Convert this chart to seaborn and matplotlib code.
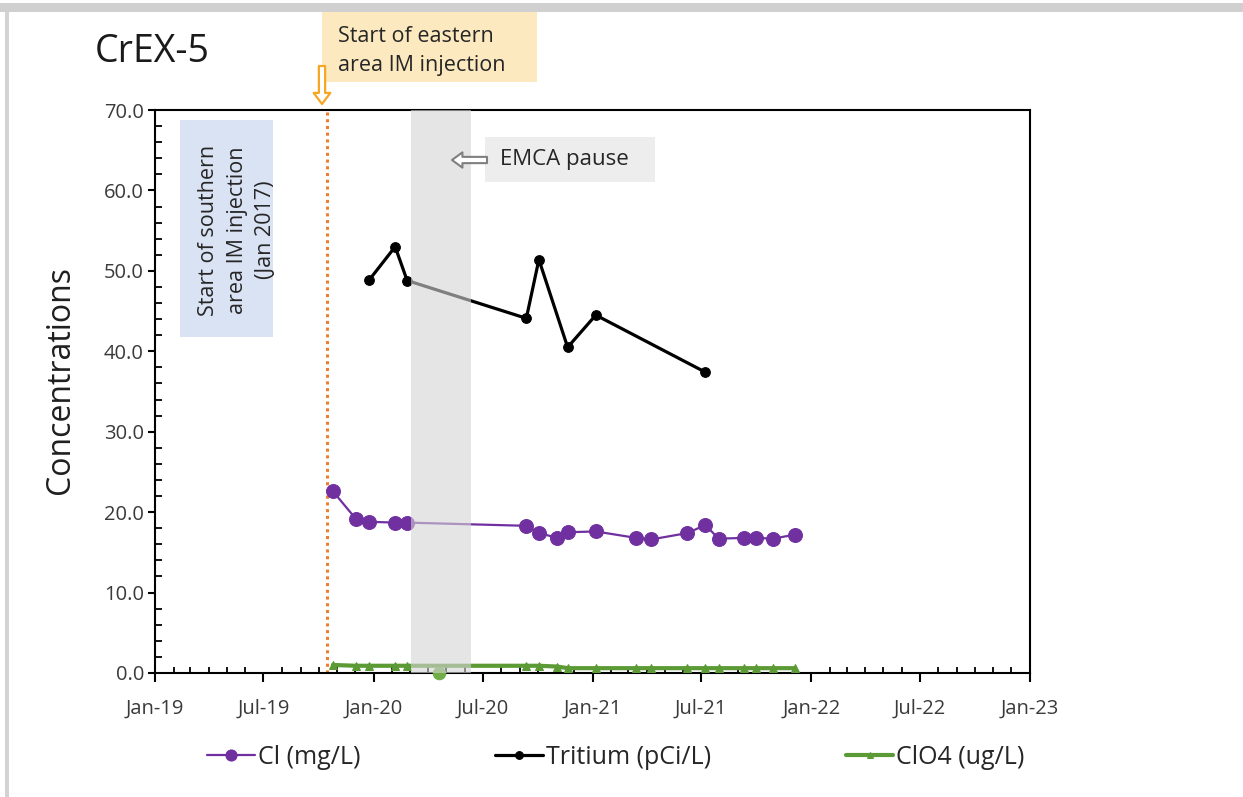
import numpy as np
import pandas as pd
import matplotlib
matplotlib.use("Agg")
import matplotlib.pyplot as plt
import matplotlib.ticker as mticker
from matplotlib.patches import Rectangle, FancyArrowPatch
import seaborn as sns

# ---------------- data ----------------
cl_dates = ["2019-10-25", "2019-12-02", "2019-12-25", "2020-02-06", "2020-02-26",
            "2020-09-12", "2020-10-03", "2020-11-03", "2020-11-20", "2021-01-06",
            "2021-03-14", "2021-04-08", "2021-06-08", "2021-07-08", "2021-07-30",
            "2021-09-11", "2021-10-01", "2021-10-29", "2021-12-04"]
cl_values = [22.6, 19.2, 18.8, 18.7, 18.7, 18.3, 17.4, 16.8, 17.5, 17.6,
             16.8, 16.6, 17.4, 18.4, 16.7, 16.8, 16.8, 16.7, 17.2]

tritium_dates = ["2019-12-25", "2020-02-06", "2020-02-26", "2020-09-12",
                 "2020-10-03", "2020-11-20", "2021-01-06", "2021-07-08"]
tritium_values = [48.9, 53.0, 48.8, 44.1, 51.4, 40.5, 44.5, 37.4]

clo4_dates = list(cl_dates)
clo4_values = [1.0, 0.9, 0.9, 0.9, 0.9, 0.9, 0.9, 0.8, 0.6, 0.6,
               0.6, 0.6, 0.6, 0.6, 0.6, 0.6, 0.6, 0.6, 0.6]
clo4_nd_dates = ["2020-04-20"]
clo4_nd_values = [0.0]

series_labels = ["Cl (mg/L)", "Tritium (pCi/L)", "ClO4 (ug/L)"]

x_tick_dates = ["2019-01-01", "2019-07-01", "2020-01-01", "2020-07-01", "2021-01-01",
                "2021-07-01", "2022-01-01", "2022-07-01", "2023-01-01"]
x_tick_labels = ["Jan-19", "Jul-19", "Jan-20", "Jul-20", "Jan-21",
                 "Jul-21", "Jan-22", "Jul-22", "Jan-23"]
y_ticks = [0, 10, 20, 30, 40, 50, 60, 70]
y_tick_labels = ["0.0", "10.0", "20.0", "30.0", "40.0", "50.0", "60.0", "70.0"]

eastern_injection_date = "2019-10-15"
emca_pause_start = "2020-03-04"
emca_pause_end = "2020-06-11"

# ---------------- style ----------------
sns.set_style("ticks")
plt.rcParams['font.family'] = ['Open Sans', 'DejaVu Sans']

W, H = 1243, 797
fig = plt.figure(figsize=(W / 100, H / 100), dpi=100)
fig.patch.set_facecolor("white")


def fx(x):
    return x / W


def fy(y):
    return 1 - y / H


ax = fig.add_axes([fx(155), fy(673), (1030 - 155) / W, (673 - 110) / H])

c_cl = "#7030A0"
c_tr = "#000000"
c_clo4 = "#5B9A35"

sns.lineplot(x=pd.to_datetime(cl_dates), y=cl_values, ax=ax, color=c_cl,
             marker="o", markersize=10, markeredgecolor=c_cl, linewidth=1.6,
             label=series_labels[0], zorder=3)
sns.lineplot(x=pd.to_datetime(tritium_dates), y=tritium_values, ax=ax, color=c_tr,
             marker="o", markersize=7, markeredgecolor=c_tr, linewidth=2.3,
             label=series_labels[1], zorder=3)
sns.lineplot(x=pd.to_datetime(clo4_dates), y=clo4_values, ax=ax, color=c_clo4,
             marker="^", markersize=6, markeredgecolor=c_clo4, linewidth=3,
             label=series_labels[2], zorder=3)
sns.lineplot(x=pd.to_datetime(clo4_nd_dates), y=clo4_nd_values, ax=ax, color="#70AD47",
             marker="o", markersize=9, markeredgecolor="#70AD47", linewidth=0,
             legend=False, zorder=3, clip_on=False)

ax.axvline(pd.Timestamp(eastern_injection_date), color="#ED7D31",
           linestyle=(0, (1, 1.2)), linewidth=2.2, zorder=2)
ax.axvspan(pd.Timestamp(emca_pause_start), pd.Timestamp(emca_pause_end),
           color="#D5D5D5", alpha=0.6, zorder=5, linewidth=0)

ax.set_xlim(pd.Timestamp(x_tick_dates[0]), pd.Timestamp(x_tick_dates[-1]))
ax.set_xticks(pd.to_datetime(x_tick_dates))
ax.set_xticklabels(x_tick_labels)
ax.xaxis.set_minor_locator(matplotlib.dates.MonthLocator())
ax.set_ylim(0, 70)
ax.set_yticks(y_ticks)
ax.set_yticklabels(y_tick_labels)
ax.yaxis.set_minor_locator(mticker.MultipleLocator(2))

ax.tick_params(axis="x", which="major", direction="out", length=6.5, width=1.5,
               pad=12, labelsize=14.5, labelcolor="#3a3a3a", color="black")
ax.tick_params(axis="x", which="minor", direction="in", length=4.3, width=1.3, color="black")
ax.tick_params(axis="y", which="major", direction="out", length=5, width=1.5,
               pad=3, labelsize=14.5, labelcolor="#3a3a3a", color="black")
ax.tick_params(axis="y", which="minor", direction="in", length=5, width=1.3, color="black")

for s in ax.spines.values():
    s.set_visible(True)
    s.set_linewidth(1.5)
    s.set_color("black")

ax.set_xlabel("")
ax.set_ylabel("Concentrations", fontsize=23, color="#1f1f1f")
ax.yaxis.set_label_coords(-0.089, 0.52)

handles, labels = ax.get_legend_handles_labels()
ax.legend(handles, labels, loc="center", bbox_to_anchor=(fx(616), fy(757)),
          bbox_transform=fig.transFigure, ncol=3, frameon=False, fontsize=18,
          handlelength=1.9, handletextpad=0.12, columnspacing=5.4, markerscale=0.8,
          labelcolor="#262626")

# ---------------- annotations ----------------
# screenshot border
fig.add_artist(Rectangle((0, fy(12)), 1, 9 / H, transform=fig.transFigure,
                         facecolor="#D0D0D0", edgecolor="none", zorder=0))
fig.add_artist(Rectangle((fx(5), 0), 4 / W, fy(12), transform=fig.transFigure,
                         facecolor="#D3D3D3", edgecolor="none", zorder=0))

fig.text(fx(95), fy(52), "CrEX-5", fontsize=27, ha="left", va="center", color="#1a1a1a")

# yellow box
fig.add_artist(Rectangle((fx(322), fy(82)), (537 - 322) / W, (82 - 12) / H,
                         transform=fig.transFigure, facecolor="#FCE9BF",
                         edgecolor="none", zorder=1))
fig.text(fx(338), fy(51), "Start of eastern\narea IM injection", fontsize=15.5,
         ha="left", va="center", linespacing=1.5, color="#262626", zorder=2)
fig.add_artist(FancyArrowPatch(posA=(fx(322), fy(66)), posB=(fx(322), fy(104)),
                               transform=fig.transFigure,
                               arrowstyle="simple,head_width=1.2,head_length=0.8,tail_width=0.45",
                               mutation_scale=10, facecolor="white", edgecolor="#F5A623",
                               linewidth=1.6, shrinkA=0, shrinkB=0, zorder=3))

# blue box
fig.add_artist(Rectangle((fx(180), fy(337)), (273 - 180) / W, (337 - 120) / H,
                         transform=fig.transFigure, facecolor="#DAE3F3",
                         edgecolor="none", zorder=1))
fig.text(fx(237), fy(230), "Start of southern\narea IM injection\n(Jan 2017)",
         rotation=90, fontsize=15.5, ha="center", va="center", linespacing=1.45,
         multialignment="center", color="#262626", zorder=2)

# EMCA pause
fig.add_artist(Rectangle((fx(485), fy(182)), (655 - 485) / W, (182 - 137) / H,
                         transform=fig.transFigure, facecolor="#EDEDED",
                         edgecolor="none", zorder=1))
fig.text(fx(500), fy(160), "EMCA pause", fontsize=16, ha="left", va="center",
         color="#262626", zorder=2)
fig.add_artist(FancyArrowPatch(posA=(fx(487), fy(160)), posB=(fx(452), fy(160)),
                               transform=fig.transFigure,
                               arrowstyle="simple,head_width=1.1,head_length=0.75,tail_width=0.45",
                               mutation_scale=10, facecolor="white", edgecolor="#808080",
                               linewidth=1.5, shrinkA=0, shrinkB=0, zorder=3))

fig.savefig("out.png", dpi=100)
